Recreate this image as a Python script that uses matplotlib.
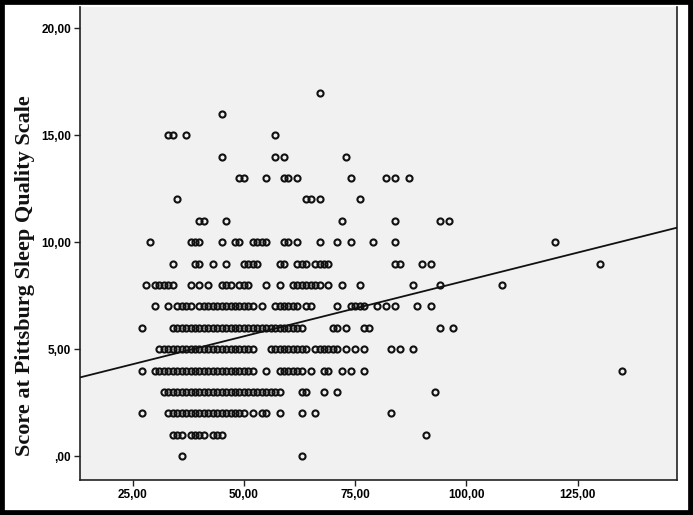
import matplotlib
matplotlib.use("Agg")
import matplotlib.pyplot as plt
import numpy as np
from matplotlib.patches import Rectangle

# x values, one list per sleep score level
score_0 = [36, 63]
score_1 = [34, 35, 36, 38, 39, 40, 41, 43, 44, 45, 91]
score_2 = [27, 33, 34, 35, 36, 37, 38, 39, 40, 41, 42, 43, 44, 45, 46, 47, 48, 49, 50,
           52, 54, 55, 58, 63, 66, 83]
score_3 = [32, 33, 34, 35, 36, 37, 38, 39, 40, 41, 42, 43, 44, 45, 46, 47, 48, 49, 50,
           51, 52, 53, 54, 55, 56, 57, 58, 63, 64, 68, 71, 93]
score_4 = [27, 30, 31, 32, 33, 34, 35, 36, 37, 38, 39, 40, 41, 42, 43, 44, 45, 46, 47,
           48, 49, 50, 51, 52, 55, 58, 59, 60, 61, 62, 63, 65, 68, 69, 72, 74, 77, 135]
score_5 = [31, 32, 33, 34, 35, 36, 37, 38, 39, 40, 41, 42, 43, 44, 45, 46, 47, 48, 49,
           50, 51, 52, 56, 57, 58, 59, 60, 61, 62, 63, 64, 66, 67, 68, 69, 70, 71, 73,
           75, 77, 83, 85, 88]
score_6 = [27, 34, 35, 36, 37, 38, 39, 40, 41, 42, 43, 44, 45, 46, 47, 48, 49, 50, 51,
           52, 53, 54, 55, 56, 57, 58, 59, 60, 61, 62, 63, 70, 71, 73, 77, 78, 94, 97]
score_7 = [30, 33, 35, 36, 37, 38, 40, 41, 42, 43, 44, 45, 46, 47, 48, 49, 50, 51, 52,
           54, 57, 58, 59, 60, 61, 62, 64, 65, 71, 74, 75, 76, 77, 80, 82, 84, 89, 92]
score_8 = [28, 30, 31, 32, 33, 34, 38, 40, 42, 45, 46, 47, 49, 50, 51, 55, 58, 61, 62,
           63, 64, 65, 66, 67, 69, 72, 76, 88, 94, 108]
score_9 = [34, 39, 40, 43, 46, 50, 51, 52, 53, 58, 59, 62, 63, 64, 66, 67, 68, 69, 84,
           85, 90, 92, 130]
score_10 = [29, 38, 39, 40, 45, 48, 49, 52, 53, 54, 55, 59, 60, 62, 67, 71, 74, 79, 84, 120]
score_11 = [40, 41, 46, 72, 84, 94, 96]
score_12 = [35, 64, 65, 67, 76]
score_13 = [49, 50, 55, 59, 60, 62, 74, 82, 84, 87]
score_14 = [45, 57, 59, 73]
score_15 = [33, 34, 37, 57]
score_16 = [45]
score_17 = [67]

rows = [score_0, score_1, score_2, score_3, score_4, score_5, score_6, score_7, score_8,
        score_9, score_10, score_11, score_12, score_13, score_14, score_15, score_16,
        score_17]

# fit line
fit_intercept = 2.99
fit_slope = 0.0522

x_ticks = [25, 50, 75, 100, 125]
y_ticks = [0, 5, 10, 15, 20]
x_tick_labels = ["25,00", "50,00", "75,00", "100,00", "125,00"]
y_tick_labels = [",00", "5,00", "10,00", "15,00", "20,00"]
y_title = "Score at Pittsburg Sleep Quality Scale"

xs = np.concatenate([np.array(r, dtype=float) for r in rows])
ys = np.concatenate([np.full(len(r), float(i)) for i, r in enumerate(rows)])

fig = plt.figure(figsize=(6.93, 5.15), dpi=100)
fig.patch.set_facecolor("white")
ax = fig.add_axes([80 / 693, 1 - 480 / 515, (676.7 - 80) / 693, (480 - 7) / 515])
ax.set_facecolor("#f1f1f1")

ax.plot(xs, ys, linestyle="none", marker="o", markersize=4.4,
        markerfacecolor="none", markeredgecolor="#111111", markeredgewidth=1.5, zorder=2)

xlim = (13.16, 147.25)
ax.set_xlim(xlim)
ax.set_ylim(-1.12, 21.0)
lx = np.array(xlim)
ax.plot(lx, fit_intercept + fit_slope * lx, color="#111111", linewidth=1.3, zorder=3)

ax.set_xticks(x_ticks)
ax.set_xticklabels(x_tick_labels)
ax.set_yticks(y_ticks)
ax.set_yticklabels(y_tick_labels)
for lab in ax.get_xticklabels() + ax.get_yticklabels():
    lab.set_fontfamily("Liberation Sans")
    lab.set_fontweight("bold")
    lab.set_fontsize(8.5)
ax.tick_params(axis="both", direction="out", length=4.5, width=1.0, color="#222222", pad=2)

ax.spines["top"].set_visible(False)
for s in ["left", "bottom", "right"]:
    ax.spines[s].set_color("#222222")
    ax.spines[s].set_linewidth(1.2)

fig.text(25 / 693, 1 - 276 / 515, y_title, rotation=90, ha="center", va="center",
         fontsize=16, fontweight="bold", family="Liberation Serif", color="#111111")

# black frame around the whole picture
fig.patches.append(Rectangle((0, 0), 1, 1, transform=fig.transFigure, fill=False,
                             edgecolor="black", linewidth=7, zorder=10))

fig.savefig("out.png", dpi=100)
